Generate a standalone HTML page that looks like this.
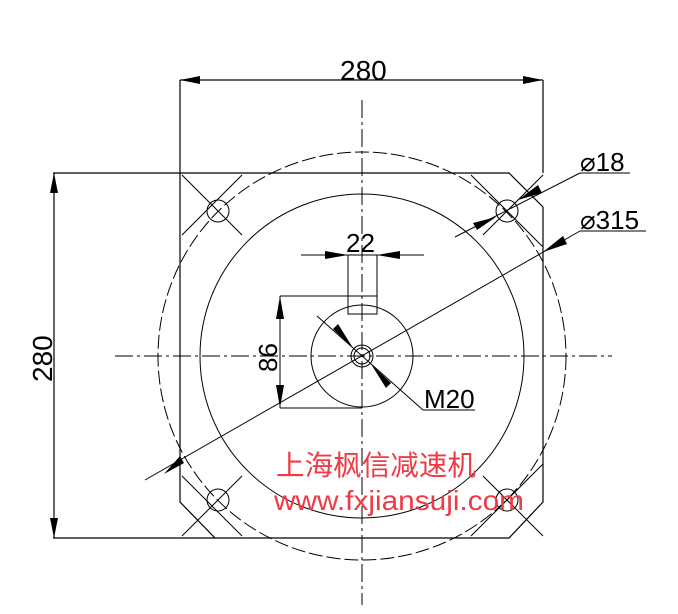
<!DOCTYPE html>
<html><head><meta charset="utf-8"><style>
html,body{margin:0;padding:0;background:#fff;width:678px;height:614px;overflow:hidden}
svg{display:block}
</style></head><body>
<svg width="678" height="614" viewBox="0 0 678 614" xmlns="http://www.w3.org/2000/svg">
<g stroke="#000" stroke-width="1.2" fill="none">
<!-- plate outline -->
<polyline points="180,173 509,173 543,207 543,502 509,538 215,538 180,502 180,173"/>
<!-- extension lines -->
<line x1="180" y1="80" x2="180" y2="173"/>
<line x1="543" y1="80" x2="543" y2="173"/>
<line x1="53" y1="173" x2="180" y2="173"/>
<line x1="53" y1="538" x2="215" y2="538"/>
<!-- dim lines -->
<line x1="180" y1="80" x2="543" y2="80"/>
<line x1="54" y1="173" x2="54" y2="538"/>
<!-- circles -->
<circle cx="362" cy="356" r="204" stroke-dasharray="14,4" stroke-width="1"/>
<circle cx="362" cy="356" r="162" stroke-width="1"/>
<circle cx="362" cy="356" r="51" stroke-width="1"/>
<circle cx="362" cy="356" r="11" stroke-width="1"/>
<circle cx="362" cy="356" r="8" stroke-width="1"/>
<!-- holes -->
<g stroke-width="1">
<circle cx="218" cy="211" r="11"/><circle cx="507" cy="211" r="11"/>
<circle cx="218" cy="500" r="11"/><circle cx="507" cy="500" r="11"/>
<line x1="182" y1="175" x2="242" y2="235"/><line x1="242" y1="175" x2="182" y2="235"/>
<line x1="471" y1="175" x2="543" y2="247"/><line x1="543" y1="175" x2="483" y2="235"/>
<line x1="182" y1="476" x2="242" y2="536"/><line x1="242" y1="476" x2="182" y2="536"/>
<line x1="483" y1="476" x2="543" y2="536"/><line x1="543" y1="464" x2="471" y2="536"/>
</g>
<!-- center lines -->
<line x1="362" y1="100" x2="362" y2="605" stroke-width="1" stroke-dasharray="18,4,3,4"/>
<line x1="115" y1="356" x2="612" y2="356" stroke-width="1" stroke-dasharray="18,4,3,4"/>
<!-- keyway -->
<rect x="348" y="255" width="29" height="59" stroke-width="1"/>
<line x1="348" y1="296" x2="377" y2="296" stroke-width="1"/>
<line x1="301" y1="255" x2="424" y2="255" stroke-width="1"/>
<line x1="280" y1="296" x2="348" y2="296" stroke-width="1"/>
<line x1="280" y1="408" x2="362" y2="408" stroke-width="1"/>
<line x1="280" y1="296" x2="280" y2="408" stroke-width="1"/>
<!-- diameter lines -->
<line x1="145" y1="480" x2="580" y2="231" stroke-width="1"/>
<line x1="580" y1="231" x2="646" y2="231" stroke-width="1"/>
<line x1="455" y1="237" x2="580" y2="173" stroke-width="1"/>
<line x1="580" y1="173" x2="630" y2="173" stroke-width="1"/>
<!-- M20 leader -->
<line x1="317" y1="316" x2="423" y2="410" stroke-width="1"/>
<line x1="423" y1="410" x2="475" y2="410" stroke-width="1"/>
</g>
<g fill="#000">
<!-- arrows 280 top -->
<polygon points="180,80 200,76 200,84"/>
<polygon points="543,80 523,76 523,84"/>
<polygon points="54,173 50,193 58,193"/>
<polygon points="54,538 50,518 58,518"/>
<!-- 22 -->
<polygon points="348,255 325,251 325,259"/>
<polygon points="377,255 400,251 400,259"/>
<!-- 86 -->
<polygon points="280,296 276,319 284,319"/>
<polygon points="280,408 276,385 284,385"/>
<!-- M20 -->
<polygon points="353,348 333,329 338,324"/>
<polygon points="371,364 391,383 386,388"/>
<!-- 315 -->
<polygon points="160,471 180,460 176,453 " transform="translate(4,3)"/>
<polygon points="543,252 563,236 567,244"/>
<!-- 18 -->
<polygon points="496,217 477,230 473,223" transform="rotate(0)"/>
<polygon points="518,200 538,185 542,193"/>
</g>
<g font-family="Liberation Sans, sans-serif" font-size="28" fill="#000">
<text x="340" y="80">280</text>
<text transform="translate(52,382) rotate(-90)">280</text>
<text x="346" y="252" font-size="26">22</text>
<text transform="translate(277,372) rotate(-90)" font-size="26">86</text>
<text x="424" y="408" font-size="26">M20</text>
<text x="580" y="171" font-size="26">⌀18</text>
<text x="580" y="229" font-size="26">⌀315</text>
</g>
<g fill="#f03a45" font-family="Liberation Sans, 'Noto Sans CJK SC', sans-serif">
<text x="276" y="475" font-size="28" textLength="200" lengthAdjust="spacingAndGlyphs">上海枫信减速机</text>
<text x="274" y="510" font-size="28" textLength="250" lengthAdjust="spacingAndGlyphs">www.fxjiansuji.com</text>
</g>
</svg>
</body></html>
